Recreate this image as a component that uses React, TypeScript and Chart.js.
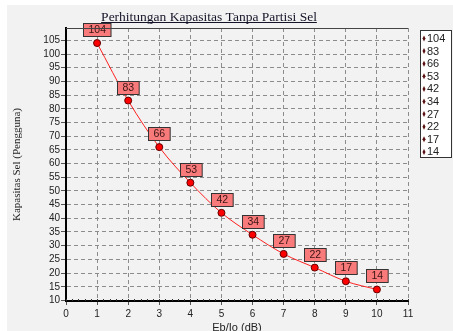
import React, { useEffect, useRef } from "react";
import { Chart, registerables } from "chart.js";

Chart.register(...registerables);

const X_VALUES = [1, 2, 3, 4, 5, 6, 7, 8, 9, 10];
const CAPACITY = [104, 83, 66, 53, 42, 34, 27, 22, 17, 14];
const X_TICKS = [0, 1, 2, 3, 4, 5, 6, 7, 8, 9, 10, 11];
const Y_TICKS = [10, 15, 20, 25, 30, 35, 40, 45, 50, 55, 60, 65, 70, 75, 80, 85, 90, 95, 100, 105];
const TITLE = "Perhitungan Kapasitas Tanpa Partisi Sel";
const X_TITLE = "Eb/Io (dB)";
const Y_TITLE = "Kapasitas Sel (Pengguna)";

const SANS = '"Liberation Sans", Arial, sans-serif';
const SERIF = '"Liberation Serif", "Times New Roman", serif';

const decorPlugin = {
  id: "decor",
  beforeDraw(chart: any) {
    const ctx = chart.ctx;
    ctx.save();
    ctx.fillStyle = "#ffffff";
    ctx.fillRect(0, 0, chart.width, chart.height);
    ctx.fillStyle = "#f2f2f2";
    ctx.fillRect(7, 5, chart.width - 7, chart.height - 5);
    ctx.restore();
  },
  afterDraw(chart: any) {
    const ctx = chart.ctx;
    const area = chart.chartArea;
    ctx.save();
    // top border of plot
    ctx.strokeStyle = "#444444";
    ctx.lineWidth = 1;
    ctx.beginPath();
    ctx.moveTo(area.left, area.top + 0.5);
    ctx.lineTo(area.right, area.top + 0.5);
    ctx.stroke();

    // minor ticks on x axis
    const xs = chart.scales.x;
    ctx.strokeStyle = "#333333";
    for (let v = 0; v <= 11.0001; v += 0.2) {
      const px = Math.round(xs.getPixelForValue(v)) + 0.5;
      ctx.beginPath();
      ctx.moveTo(px, area.bottom - 2);
      ctx.lineTo(px, area.bottom);
      ctx.stroke();
    }

    // title
    ctx.fillStyle = "#141428";
    ctx.font = "13.5px " + SERIF;
    ctx.textAlign = "center";
    ctx.textBaseline = "alphabetic";
    const tw = ctx.measureText(TITLE).width;
    const tx = 209;
    ctx.fillText(TITLE, tx, 21);
    ctx.strokeStyle = "#141428";
    ctx.beginPath();
    ctx.moveTo(tx - tw / 2, 22.5);
    ctx.lineTo(tx + tw / 2, 22.5);
    ctx.stroke();

    // y title
    ctx.save();
    ctx.translate(17, (area.top + area.bottom) / 2);
    ctx.rotate(-Math.PI / 2);
    ctx.font = "11px " + SERIF;
    ctx.fillStyle = "#222222";
    ctx.textBaseline = "middle";
    ctx.fillText(Y_TITLE, 0, 0);
    ctx.restore();

    // x title
    ctx.font = "11px " + SANS;
    ctx.fillStyle = "#222222";
    ctx.textAlign = "center";
    ctx.textBaseline = "alphabetic";
    ctx.fillText(X_TITLE, (area.left + area.right) / 2, 331);

    // legend
    const lx = 420.5, ly = 30.5, lw = 31, lh = 127;
    ctx.fillStyle = "#ffffff";
    ctx.fillRect(lx, ly, lw, lh);
    ctx.strokeStyle = "#333333";
    ctx.strokeRect(lx, ly, lw, lh);
    ctx.font = "11px " + SANS;
    ctx.textAlign = "left";
    ctx.textBaseline = "middle";
    CAPACITY.forEach((v, i) => {
      const cy = 38.5 + i * 12.6;
      ctx.fillStyle = "#5a1010";
      ctx.beginPath();
      ctx.moveTo(424, cy - 3);
      ctx.lineTo(425.5, cy);
      ctx.lineTo(424, cy + 3);
      ctx.lineTo(422.5, cy);
      ctx.closePath();
      ctx.fill();
      ctx.fillStyle = "#222222";
      ctx.fillText(String(v), 427, cy + 0.5);
    });
    ctx.restore();
  },
  afterDatasetsDraw(chart: any) {
    const ctx = chart.ctx;
    const meta = chart.getDatasetMeta(0);
    ctx.save();
    ctx.font = "10.5px " + SANS;
    ctx.textAlign = "center";
    ctx.textBaseline = "middle";
    meta.data.forEach((pt: any, i: number) => {
      const txt = String(CAPACITY[i]);
      const w = ctx.measureText(txt).width + 10;
      const h = 13;
      const bx = Math.round(pt.x - w / 2) + 0.5;
      const by = Math.round(pt.y - 7 - h) + 0.5;
      ctx.fillStyle = "#f87a7a";
      ctx.fillRect(bx, by, w, h);
      ctx.strokeStyle = "#333333";
      ctx.lineWidth = 1;
      ctx.strokeRect(bx, by, w, h);
      ctx.fillStyle = "#3a1414";
      ctx.fillText(txt, bx + w / 2, by + h / 2 + 0.5);
    });
    ctx.restore();
  },
};

export default function App() {
  const ref = useRef<HTMLCanvasElement | null>(null);
  useEffect(() => {
    document.body.style.margin = "0";
    const canvas = ref.current!;
    const chart = new Chart(canvas, {
      type: "line",
      data: {
        datasets: [
          {
            data: X_VALUES.map((x, i) => ({ x, y: CAPACITY[i] })),
            borderColor: "#ff2020",
            borderWidth: 1,
            backgroundColor: "#ff0000",
            pointBackgroundColor: "#ff0000",
            pointBorderColor: "#600000",
            pointBorderWidth: 1,
            pointRadius: 3.5,
            cubicInterpolationMode: "monotone",
            fill: false,
          },
        ],
      },
      options: {
        animation: false,
        responsive: false,
        devicePixelRatio: 1,
        layout: { padding: { left: 0, right: 45, top: 28, bottom: 0 } },
        plugins: { legend: { display: false }, title: { display: false }, tooltip: { enabled: false } },
        scales: {
          x: {
            type: "linear",
            min: 0,
            max: 11,
            afterBuildTicks: (s: any) => {
              s.ticks = X_TICKS.map((v) => ({ value: v }));
            },
            afterFit: (s: any) => {
              s.height = 30;
            },
            ticks: { color: "#222222", font: { family: SANS, size: 10 }, padding: 3, maxRotation: 0, autoSkip: false },
            grid: { color: "#8c8c8c", tickColor: "#555555", tickLength: 4, tickBorderDash: [] },
            border: { display: true, color: "#000000", width: 2, dash: [4, 3] },
          },
          y: {
            type: "linear",
            min: 9.8,
            max: 109.5,
            afterBuildTicks: (s: any) => {
              s.ticks = Y_TICKS.map((v) => ({ value: v }));
            },
            afterFit: (s: any) => {
              s.width = 66;
            },
            ticks: { color: "#222222", font: { family: SANS, size: 10 }, padding: 1, autoSkip: false },
            grid: { color: "#8c8c8c", tickColor: "#555555", tickLength: 5, tickBorderDash: [] },
            border: { display: true, color: "#000000", width: 2, dash: [4, 3] },
          },
        },
      },
      plugins: [decorPlugin],
    } as any);
    return () => chart.destroy();
  }, []);
  return (
    <div style={{ width: 453, height: 331 }}>
      <canvas ref={ref} width={453} height={331} style={{ display: "block" }} />
    </div>
  );
}
